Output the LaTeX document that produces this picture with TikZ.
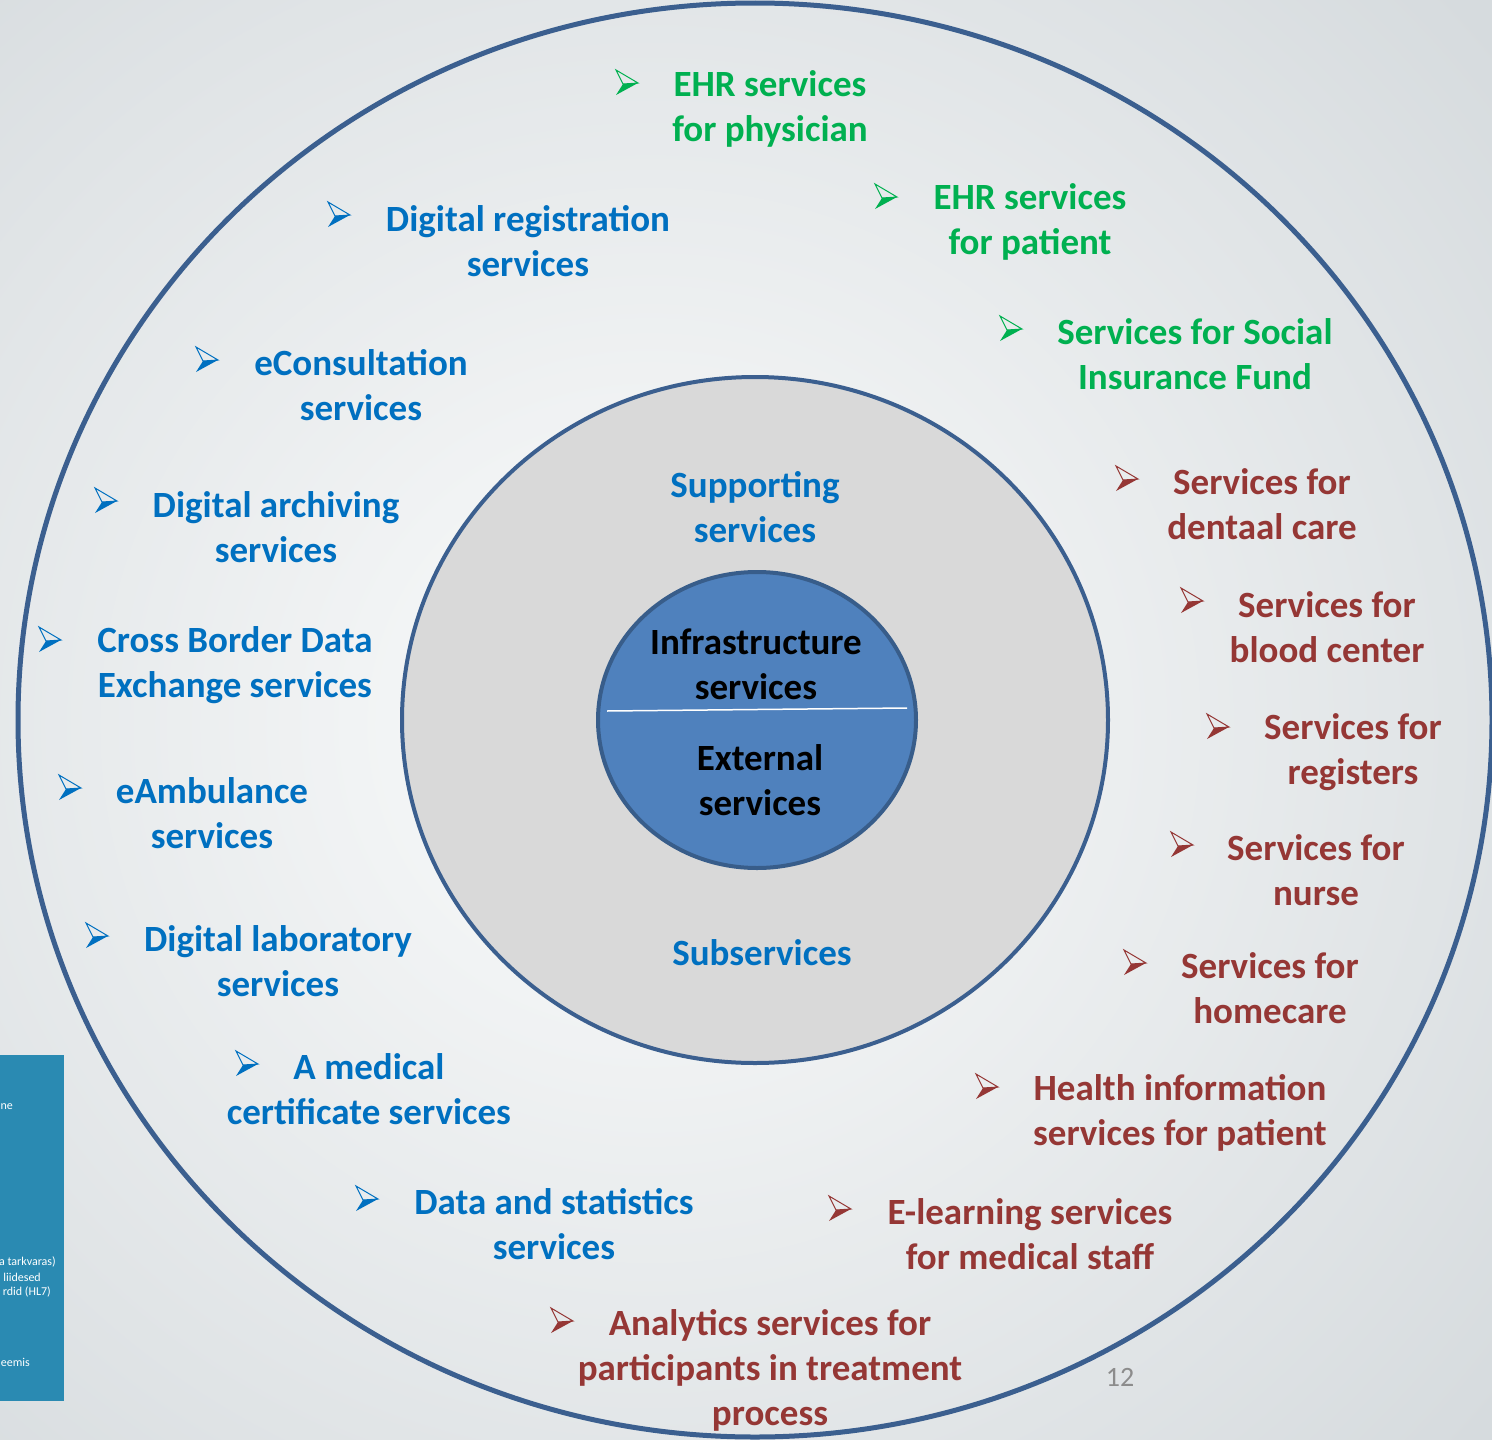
\documentclass[tikz,border=0pt]{standalone}
\usepackage{fontspec}
\setmainfont{Carlito}
\definecolor{tblue}{HTML}{0070C0}
\definecolor{tgreen}{HTML}{00B050}
\definecolor{tred}{HTML}{953735}
\definecolor{ring}{HTML}{3B5F8F}
\definecolor{innerfill}{HTML}{4F81BD}
\definecolor{innerline}{HTML}{385D8A}
\definecolor{midfill}{HTML}{D9D9D9}
\definecolor{bgin}{HTML}{FBFCFC}
\definecolor{bgout}{HTML}{D6DBDE}
\definecolor{panel}{HTML}{2A8AB2}
\definecolor{pnum}{HTML}{8C8C8C}
\newcommand{\bul}[3]{%
  \begin{scope}[shift={(#1,#2)}]
    \draw[#3, line width=1pt, line join=miter] (-11,-13) -- (11,0) -- (-4,1) -- cycle;
    \fill[#3] (-4,1) -- (11,0) -- (-11,12) -- cycle;
  \end{scope}}
\tikzset{
  lbl/.style={align=center, inner sep=0pt, font=\bfseries\fontsize{37}{45}\selectfont},
  gl/.style={lbl, text=tgreen},
  bl/.style={lbl, text=tblue},
  rl/.style={lbl, text=tred},
  kl/.style={lbl, text=black},
  ptxt/.style={inner sep=0pt, anchor=east, text=white, font=\fontsize{12}{14}\selectfont},
}
\begin{document}
\begin{tikzpicture}[x=1pt, y=-1pt]
\useasboundingbox (0,0) rectangle (1492,1440);
\clip (0,0) rectangle (1492,1440);
\shade[inner color=bgin, outer color=bgout] (-450,-350) rectangle (1750,1800);
% rings
\draw[ring, line width=5pt] (755,720) ellipse [x radius=737, y radius=717];
\draw[ring, line width=4pt, fill=midfill] (755,720) ellipse [x radius=353, y radius=343];
\draw[innerline, line width=4pt, fill=innerfill] (757,720) ellipse [x radius=159, y radius=148];
\draw[white, line width=1.5pt] (607,711) -- (907,708);
% inner texts
\node[kl] (infra) at (756,664) {Infrastructure\\services};
\node[kl] (ext) at (760,780) {External\\services};
\node[bl] (supp) at (755,507) {Supporting\\services};
\node[bl] (subs) at (762,953) {Subservices};
% green
\node[gl] (g1) at (770,109) {EHR services\\for physician}; \bul{627}{83}{tgreen}
\node[gl] (g2) at (1030,222) {EHR services\\for patient}; \bul{886}{197}{tgreen}
\node[gl] (g3) at (1195,354) {Services for Social\\Insurance Fund}; \bul{1011}{329}{tgreen}
% blue
\node[bl] (b1) at (528,241) {Digital registration\\services}; \bul{339}{215}{tblue}
\node[bl] (b2) at (361,385) {eConsultation\\services}; \bul{207}{360}{tblue}
\node[bl] (b3) at (276,527) {Digital archiving\\services}; \bul{106}{501}{tblue}
\node[bl] (b4) at (235,665) {Cross Border Data\\Exchange services}; \bul{50}{640}{tblue}
\node[bl] (b5) at (212,813) {eAmbulance\\services}; \bul{70}{788}{tblue}
\node[bl] (b6) at (278,961) {Digital laboratory\\services}; \bul{97}{936}{tblue}
\node[bl] (b7) at (369,1089) {A medical\\certificate services}; \bul{247}{1064}{tblue}
\node[bl] (b8) at (554,1224) {Data and statistics\\services}; \bul{367}{1199}{tblue}
% red
\node[rl] (r1) at (1262,504) {Services for\\dentaal care}; \bul{1127}{479}{tred}
\node[rl] (r2) at (1327,627) {Services for\\blood center}; \bul{1192}{601}{tred}
\node[rl] (r3) at (1353,752) {Services for\\registers}; \bul{1218}{727}{tred}
\node[rl] (r4) at (1316,870) {Services for\\nurse}; \bul{1182}{845}{tred}
\node[rl] (r5) at (1270,988) {Services for\\homecare}; \bul{1135}{963}{tred}
\node[rl] (r6) at (1180,1113) {Health information\\services for patient}; \bul{987}{1087}{tred}
\node[rl] (r7) at (1030,1234) {E-learning services\\for medical staff}; \bul{840}{1209}{tred}
\node[rl] (r8) at (770,1370) {Analytics services for\\participants in treatment\\process}; \bul{562}{1321}{tred}
% page number
\node[text=pnum, inner sep=0pt, font=\fontsize{28}{32}\selectfont] (pg) at (1120,1377) {12};
% side panel
\fill[panel] (0,1055) rectangle (64,1401);
\node[ptxt] (p1) at (13,1107) {ne};
\node[ptxt] (p2) at (56,1262) {a tarkvaras)};
\node[ptxt] (p3) at (41,1277) {liidesed};
\node[ptxt] (p4) at (51,1292) {rdid (HL7)};
\node[ptxt] (p5) at (30,1362) {eemis};
\end{tikzpicture}
\end{document}
